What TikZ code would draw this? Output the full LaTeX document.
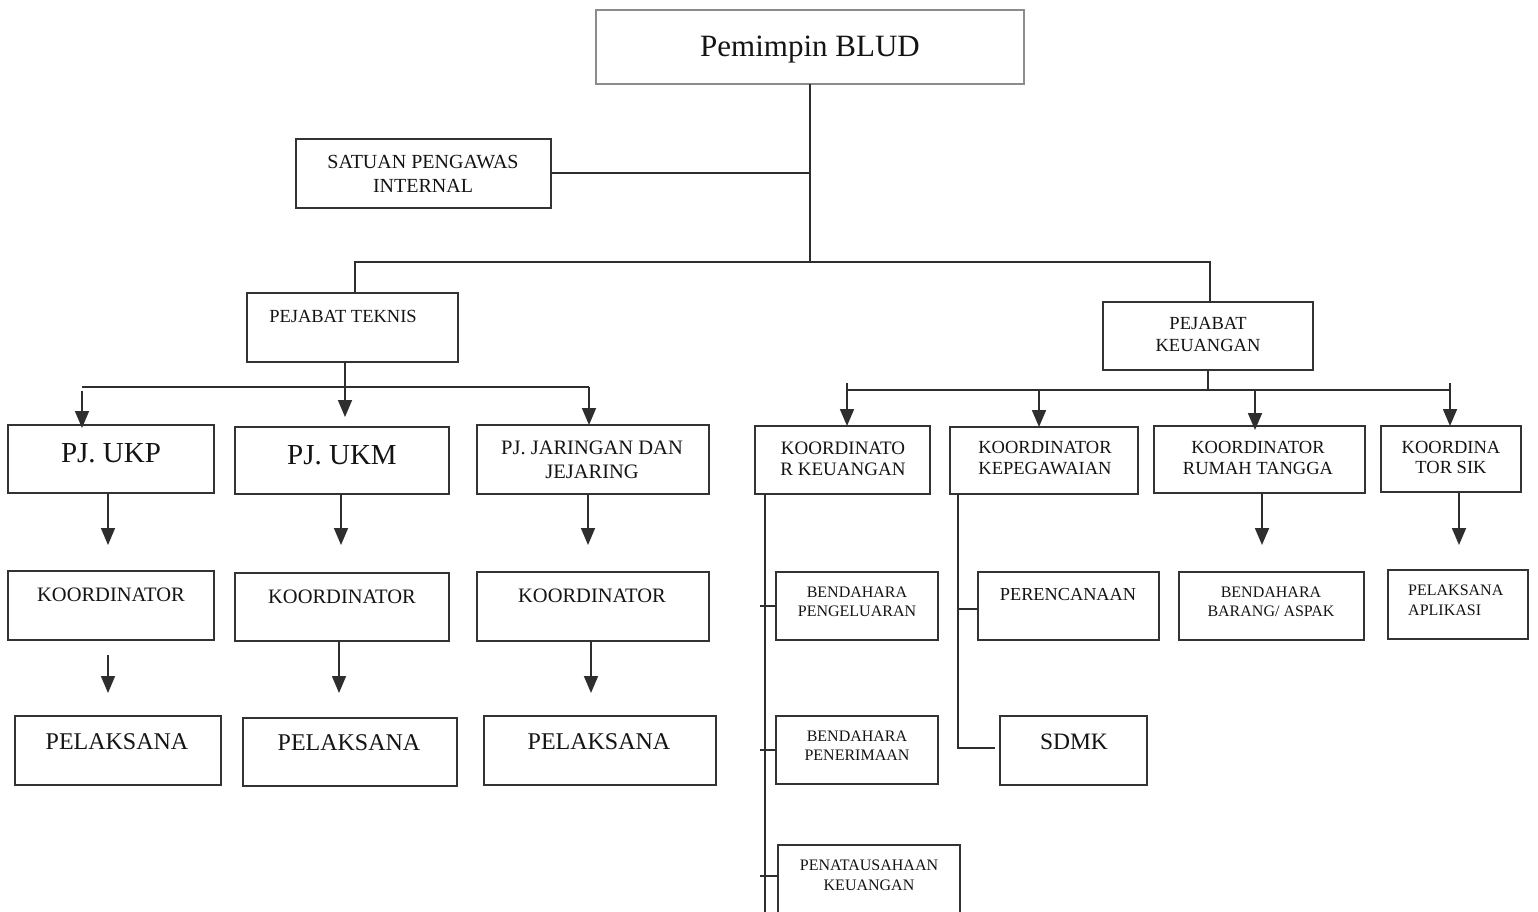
\documentclass[tikz,border=0pt]{standalone}
\usepackage{fontspec}
\setmainfont{Liberation Serif}
\usetikzlibrary{arrows.meta,fit,calc}
\newcommand\mkbox[5]{\node[box, fit={(#2,#3) (#4,#5)}] (#1) {};}
\begin{document}
\begin{tikzpicture}[x=1pt,y=-1pt,
  box/.style={draw=black!80, line width=1.7pt, inner sep=0pt, outer sep=0pt},
  topbox/.style={draw=black!45, line width=1.1pt, inner sep=0pt, outer sep=0pt},
  txt/.style={inner sep=0pt, align=center, text=black!92},
  ln/.style={draw=black!82, line width=1.7pt},
  arr/.style={ln, -{Triangle[width=14pt,length=17pt]}},
  f/.style args={#1/#2}{font=\fontsize{#1}{#2}\selectfont}]
\useasboundingbox (0,0) rectangle (1538,912);
\clip (0,0) rectangle (1538,912);
\fill[white] (0,0) rectangle (1538,912);
% boxes
\node[topbox, fit={(596,10) (1024,84)}] (boss) {};
\mkbox{spi}{296}{139}{551}{208}
\mkbox{tek}{247}{293}{458}{362}
\mkbox{keu}{1103}{302}{1313}{370}
\mkbox{ukp}{8}{425}{214}{493}
\mkbox{ukm}{235}{427}{449}{494}
\mkbox{jar}{477}{425}{709}{494}
\mkbox{ka}{8}{571}{214}{640}
\mkbox{kb}{235}{573}{449}{641}
\mkbox{kc}{477}{572}{709}{641}
\mkbox{pa1}{15}{716}{221}{785}
\mkbox{pa2}{243}{718}{457}{786}
\mkbox{pa3}{484}{716}{716}{785}
\mkbox{kk}{755}{426}{930}{494}
\mkbox{kp}{950}{427}{1138}{494}
\mkbox{kr}{1154}{426}{1365}{493}
\mkbox{ks}{1381}{426}{1521}{492}
\mkbox{bp}{776}{572}{938}{640}
\mkbox{bn}{776}{716}{938}{784}
\mkbox{pk}{778}{845}{960}{930}
\mkbox{per}{978}{572}{1159}{640}
\mkbox{sdmk}{1000}{716}{1147}{785}
\mkbox{bb}{1179}{572}{1364}{640}
\mkbox{plk}{1388}{570}{1528}{639}
% texts
\node[txt, f=31/34] (t-boss) at (810,50) {Pemimpin BLUD};
\node[txt, f=20/24] (t-spi) at (423,174) {SATUAN PENGAWAS\\INTERNAL};
\node[txt, f=18.5/22] (t-tek) at (343,316) {PEJABAT TEKNIS};
\node[txt, f=18.5/22] (t-keu) at (1208,334) {PEJABAT\\KEUANGAN};
\node[txt, f=29/32] (t-ukp) at (111,453) {PJ. UKP};
\node[txt, f=29/32] (t-ukm) at (342,455) {PJ. UKM};
\node[txt, f=20.5/24] (t-jar) at (592,460) {PJ. JARINGAN DAN\\JEJARING};
\node[txt, f=20.5/24] (t-ka) at (111,595) {KOORDINATOR};
\node[txt, f=20.5/24] (t-kb) at (342,597) {KOORDINATOR};
\node[txt, f=20.5/24] (t-kc) at (592,596) {KOORDINATOR};
\node[txt, f=24/28] (t-pa1) at (117,742) {PELAKSANA};
\node[txt, f=24/28] (t-pa2) at (349,743) {PELAKSANA};
\node[txt, f=24/28] (t-pa3) at (599,742) {PELAKSANA};
\node[txt, f=19/21] (t-kk) at (843,458.5) {KOORDINATO\\R KEUANGAN};
\node[txt, f=18.5/21] (t-kp) at (1045,458.5) {KOORDINATOR\\KEPEGAWAIAN};
\node[txt, f=18.5/21] (t-kr) at (1258,457.5) {KOORDINATOR\\RUMAH TANGGA};
\node[txt, f=18.5/20] (t-ks) at (1451,457) {KOORDINA\\TOR SIK};
\node[txt, f=16/19] (t-bp) at (857,601.5) {BENDAHARA\\PENGELUARAN};
\node[txt, f=18.3/21] (t-per) at (1068,595) {PERENCANAAN};
\node[txt, f=16/19] (t-bb) at (1271,601.5) {BENDAHARA\\BARANG/ ASPAK};
\node[txt, f=16/20, align=left, anchor=west] (t-plk) at (1408,600) {PELAKSANA\\APLIKASI};
\node[txt, f=16/19] (t-bn) at (857,745.5) {BENDAHARA\\PENERIMAAN};
\node[txt, f=23.5/26] (t-sdmk) at (1074,742) {SDMK};
\node[txt, f=16/20] (t-pk) at (869,875) {PENATAUSAHAAN\\KEUANGAN};
% coordinates
\coordinate (j1) at (810,173);
\coordinate (j2) at (810,262);
\coordinate (b1) at (355,262);
\coordinate (b2) at (1210,262);
\coordinate (tb) at (345,387);
\coordinate (tl) at (82,387);
\coordinate (tl2) at (82,391);
\coordinate (tr) at (589,387);
\coordinate (tm) at (345,417);
\coordinate (kb0) at (1208,390);
\coordinate (kl) at (847,383);
\coordinate (kr0) at (1450,383);
\coordinate (km1) at (1039,390);
\coordinate (km2) at (1255,390);
\coordinate (a1) at (108,545);
\coordinate (a2) at (341,545);
\coordinate (a3) at (588,545);
\coordinate (c1s) at (108,655);
\coordinate (c1e) at (108,693);
\coordinate (c2) at (339,693);
\coordinate (c3) at (591,693);
\coordinate (r1) at (1262,545);
\coordinate (r2) at (1459,545);
\coordinate (kv) at (765,920);
\coordinate (pv) at (958,748);
\coordinate (pe) at (995,748);
\coordinate (t1) at (760,606);
\coordinate (t2) at (760,750);
\coordinate (t3) at (760,876);
\coordinate (t4) at (958,609);
% connectors top
\draw[ln] (boss.south -| j1) -- (j2);
\draw[ln] (spi.east |- j1) -- (j1);
\draw[ln] (b1 |- tek.north) -- (b1) -- (b2) -- (b2 |- keu.north);
% pejabat teknis
\draw[ln] (tek.south -| tb) -- (tb);
\draw[ln] (tl) -- (tr);
\draw[arr] (tl2) -- ($(tl |- ukp.north)+(0,3)$);
\draw[arr] (tb) -- (tm);
\draw[arr] (tr) -- (tr |- jar.north);
\draw[arr] (a1 |- ukp.south) -- (a1);
\draw[arr] (a2 |- ukm.south) -- (a2);
\draw[arr] (a3 |- jar.south) -- (a3);
\draw[arr] (c1s) -- (c1e);
\draw[arr] (c2 |- kb.south) -- (c2);
\draw[arr] (c3 |- kc.south) -- (c3);
% pejabat keuangan
\draw[ln] (keu.south -| kb0) -- (kb0);
\draw[ln] (kl |- kb0) -- (kr0 |- kb0);
\draw[arr] (kl) -- (kl |- kk.north);
\draw[arr] (km1) -- (km1 |- kp.north);
\draw[arr] (km2) -- ($(km2 |- kr.north)+(0,4)$);
\draw[arr] (kr0) -- (kr0 |- ks.north);
\draw[arr] (r1 |- kr.south) -- (r1);
\draw[arr] (r2 |- ks.south) -- (r2);
% koordinator keuangan branch
\draw[ln] (kk.south -| kv) -- (kv);
\draw[ln] (t1) -- (t1 -| bp.west);
\draw[ln] (t2) -- (t2 -| bn.west);
\draw[ln] (t3) -- (t3 -| pk.west);
% kepegawaian branch
\draw[ln] (kp.south -| pv) -- (pv) -- (pe);
\draw[ln] (t4) -- (t4 -| per.west);
\end{tikzpicture}
\end{document}
